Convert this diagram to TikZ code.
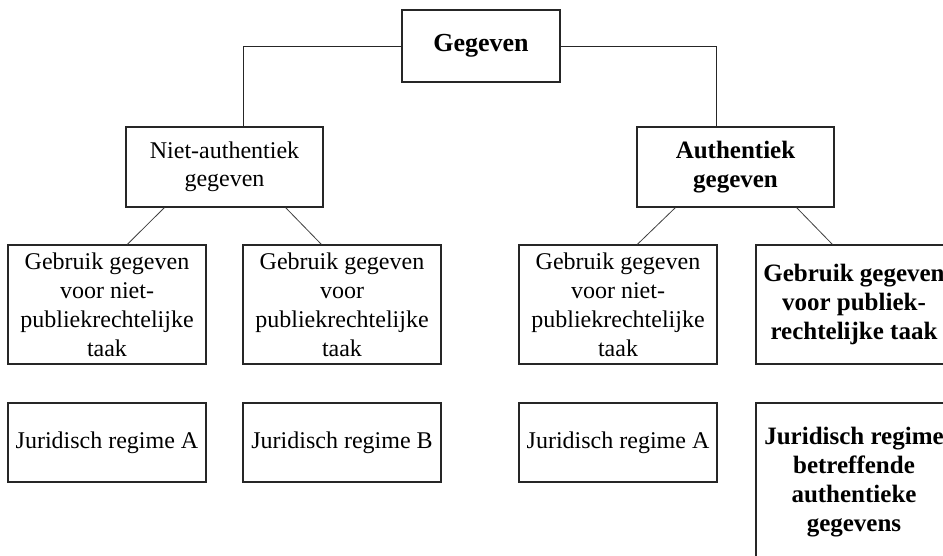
\documentclass[tikz,border=0pt]{standalone}
\usepackage{fontspec}
\setmainfont{Liberation Serif}
\usetikzlibrary{calc}
\tikzset{
  box/.style={draw=black!85, line width=1.3pt, rectangle, inner sep=0pt, align=center,
    minimum width=198pt, font=\fontsize{24}{29}\selectfont},
  boldbox/.style={box, font=\fontsize{25}{29}\selectfont\bfseries},
  conn/.style={draw=black!85, line width=1pt},
  diag/.style={draw=black!75, line width=0.8pt}
}
\begin{document}
\begin{tikzpicture}[x=1pt,y=-1pt]
\useasboundingbox (0,0) rectangle (943,555);
\clip (0,0) rectangle (943,555);
\fill[white] (0,0) rectangle (943,555);
\node[boldbox, minimum width=158pt, minimum height=72pt, font=\fontsize{26}{29}\selectfont\bfseries] (geg) at (481,46) {Gegeven};
\node[box, minimum width=197pt, minimum height=80pt, font=\fontsize{24}{28}\selectfont] (niet) at (224.5,167) {Niet-authentiek\\gegeven};
\node[boldbox, minimum width=197pt, minimum height=80pt] (auth) at (735.5,167) {Authentiek\\gegeven};
\node[box, minimum height=119pt] (c1) at (107,304.5) {Gebruik gegeven\\voor niet-\\publiekrechtelijke\\taak};
\node[box, minimum height=119pt] (c2) at (342,304.5) {Gebruik gegeven\\voor\\publiekrechtelijke\\taak};
\node[box, minimum height=119pt] (c3) at (618,304.5) {Gebruik gegeven\\voor niet-\\publiekrechtelijke\\taak};
\node[boldbox, minimum width=196pt, minimum height=119pt] (c4) at (854,304.5) {Gebruik gegeven\\voor publiek-\\rechtelijke taak};
\node[box, minimum height=79pt] (j1) at (107,442.5) {Juridisch regime A};
\node[box, minimum height=79pt] (j2) at (342,442.5) {Juridisch regime B};
\node[box, minimum height=79pt] (j3) at (618,442.5) {Juridisch regime A};
\node[boldbox, minimum width=196pt, minimum height=159pt] (j4) at (854,482.5) {Juridisch regime\\betreffende\\authentieke\\gegevens};
\coordinate (vl) at (243,0);
\coordinate (vr) at (716,0);
\draw[conn] (geg.west) -| (niet.north -| vl);
\draw[conn] (geg.east) -| (auth.north -| vr);
\draw[diag] ($(niet.south west)+(39,0)$) -- ($(c1.north west)+(120,0)$);
\draw[diag] ($(niet.south east)+(-38,0)$) -- ($(c2.north west)+(79,0)$);
\draw[diag] ($(auth.south west)+(39,0)$) -- ($(c3.north west)+(119,0)$);
\draw[diag] ($(auth.south east)+(-38,0)$) -- ($(c4.north west)+(77,0)$);
\end{tikzpicture}
\end{document}
